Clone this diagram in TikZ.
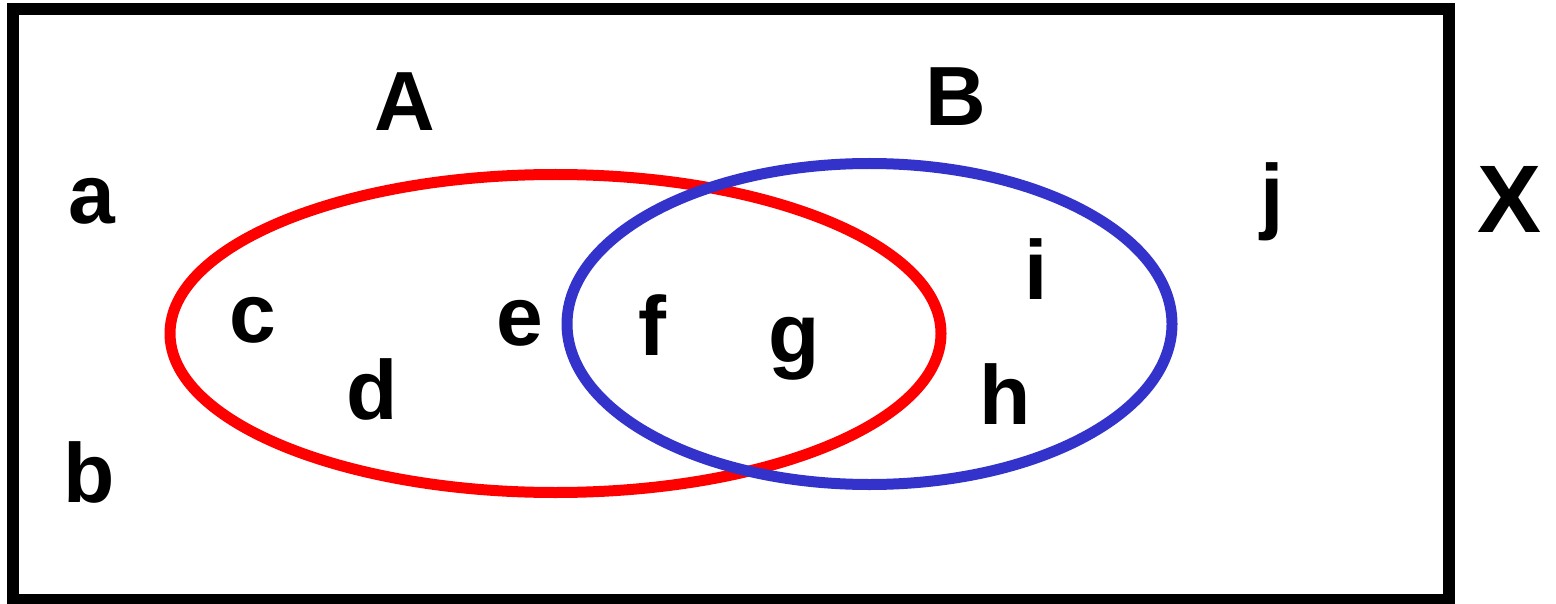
\documentclass[tikz,border=0pt]{standalone}
\usepackage{fontspec}
\setmainfont{Liberation Sans}
\definecolor{setred}{HTML}{FF0000}
\definecolor{setblue}{HTML}{3333CC}
\begin{document}
\begin{tikzpicture}[x=0.5pt,y=-0.5pt,
  lbl/.style={anchor=base,inner sep=0pt,font=\fontsize{42}{42}\selectfont\bfseries},
  biglbl/.style={anchor=base,inner sep=0pt,font=\fontsize{48}{48}\selectfont\bfseries},
  setline/.style={line width=5.5pt}]
\useasboundingbox (0,0) rectangle (1556,604);
% universe
\draw[line width=6pt] (13,9) rectangle (1449,600);
% sets A and B
\draw[setline,setred] (555.5,333.5) ellipse [x radius=192.75pt, y radius=79.5pt];
\draw[setline,setblue] (869.5,324) ellipse [x radius=151.25pt, y radius=80.25pt];
% set names
\node[lbl] (A) at (404.5,131) {A};
\node[lbl] (B) at (956,126) {B};
\node[biglbl] (X) at (1509.5,233) {X};
% elements
\node[lbl] (a) at (92,223) {a};
\node[lbl] (b) at (89.5,502) {b};
\node[lbl] (c) at (252.5,342) {c};
\node[lbl] (d) at (372.5,419) {d};
\node[lbl] (e) at (520,345) {e};
\node[lbl] (f) at (652,355) {f};
\node[lbl] (g) at (794,362) {g};
\node[lbl] (h) at (1005,424) {h};
\node[lbl] (i) at (1036,299) {i};
\node[lbl] (j) at (1272,224) {j};
\end{tikzpicture}
\end{document}
